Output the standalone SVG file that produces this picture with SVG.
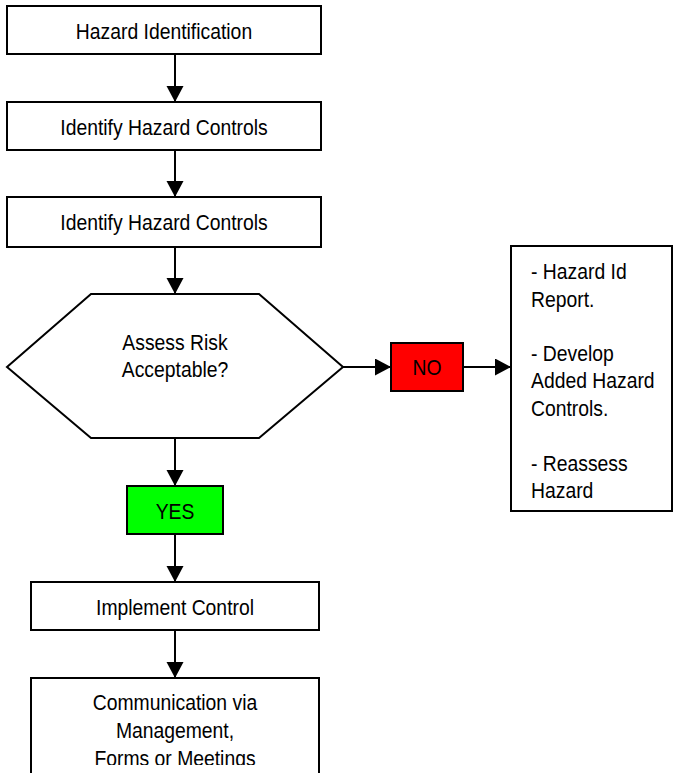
<svg xmlns="http://www.w3.org/2000/svg" width="673" height="773" viewBox="0 0 673 773">
<style>
.box{fill:#fff;stroke:#000;stroke-width:2}
.t{font-family:"Liberation Sans",Arial,sans-serif;font-size:21.5px;fill:#000}
.c{text-anchor:middle}
.line{stroke:#000;stroke-width:2;fill:none}
</style>
<defs>
<marker id="ah" markerUnits="userSpaceOnUse" markerWidth="18" markerHeight="18" refX="16" refY="8.5" orient="auto">
<path d="M0,0 L16,8.5 L0,17 Z" fill="#000"/>
</marker>
<clipPath id="clipBottom"><rect x="0" y="0" width="673" height="765"/></clipPath>
</defs>
<g id="connectors">
<line class="line" x1="175" y1="54" x2="175" y2="102" marker-end="url(#ah)"/>
<line class="line" x1="175" y1="150" x2="175" y2="197" marker-end="url(#ah)"/>
<line class="line" x1="175" y1="247" x2="175" y2="294" marker-end="url(#ah)"/>
<line class="line" x1="343" y1="367" x2="391" y2="367" marker-end="url(#ah)"/>
<line class="line" x1="463" y1="367" x2="511" y2="367" marker-end="url(#ah)"/>
<line class="line" x1="175" y1="438" x2="175" y2="486" marker-end="url(#ah)"/>
<line class="line" x1="175" y1="534" x2="175" y2="582" marker-end="url(#ah)"/>
<line class="line" x1="175" y1="630" x2="175" y2="678" marker-end="url(#ah)"/>
</g>
<g id="hazard-identification">
<rect class="box" x="7" y="6" width="314" height="48"/>
<text class="t c" transform="translate(164,39) scale(0.9,1)">Hazard Identification</text>
</g>
<g id="identify-controls-1">
<rect class="box" x="7" y="102" width="314" height="48"/>
<text class="t c" transform="translate(164,135) scale(0.9,1)">Identify Hazard Controls</text>
</g>
<g id="identify-controls-2">
<rect class="box" x="7" y="197" width="314" height="50"/>
<text class="t c" transform="translate(164,230) scale(0.9,1)">Identify Hazard Controls</text>
</g>
<g id="assess-risk">
<polygon class="box" points="91,294 259,294 343,367 259,438 91,438 7,367"/>
<text class="t c" transform="translate(175,350) scale(0.9,1)">Assess Risk</text>
<text class="t c" transform="translate(175,377) scale(0.9,1)">Acceptable?</text>
</g>
<g id="no">
<rect x="391" y="343" width="72" height="48" fill="#ff0000" stroke="#000" stroke-width="2"/>
<text class="t c" transform="translate(427,375) scale(0.9,1)">NO</text>
</g>
<g id="actions">
<rect class="box" x="511" y="246" width="161" height="265"/>
<text class="t" transform="translate(531,279) scale(0.9,1)">- Hazard Id</text>
<text class="t" transform="translate(531,307) scale(0.9,1)">Report.</text>
<text class="t" transform="translate(531,361) scale(0.9,1)">- Develop</text>
<text class="t" transform="translate(531,388) scale(0.9,1)">Added Hazard</text>
<text class="t" transform="translate(531,416) scale(0.9,1)">Controls.</text>
<text class="t" transform="translate(531,471) scale(0.9,1)">- Reassess</text>
<text class="t" transform="translate(531,498) scale(0.9,1)">Hazard</text>
</g>
<g id="yes">
<rect x="127" y="486" width="96" height="48" fill="#00ff00" stroke="#000" stroke-width="2"/>
<text class="t c" transform="translate(175,519) scale(0.9,1)">YES</text>
</g>
<g id="implement-control">
<rect class="box" x="31" y="582" width="288" height="48"/>
<text class="t c" transform="translate(175,615) scale(0.9,1)">Implement Control</text>
</g>
<g id="communication">
<rect class="box" x="31" y="678" width="288" height="110"/>
<g clip-path="url(#clipBottom)">
<text class="t c" transform="translate(175,710) scale(0.9,1)">Communication via</text>
<text class="t c" transform="translate(175,738) scale(0.9,1)">Management,</text>
<text class="t c" transform="translate(175,766) scale(0.9,1)">Forms or Meetings</text>
</g>
</g>
</svg>
